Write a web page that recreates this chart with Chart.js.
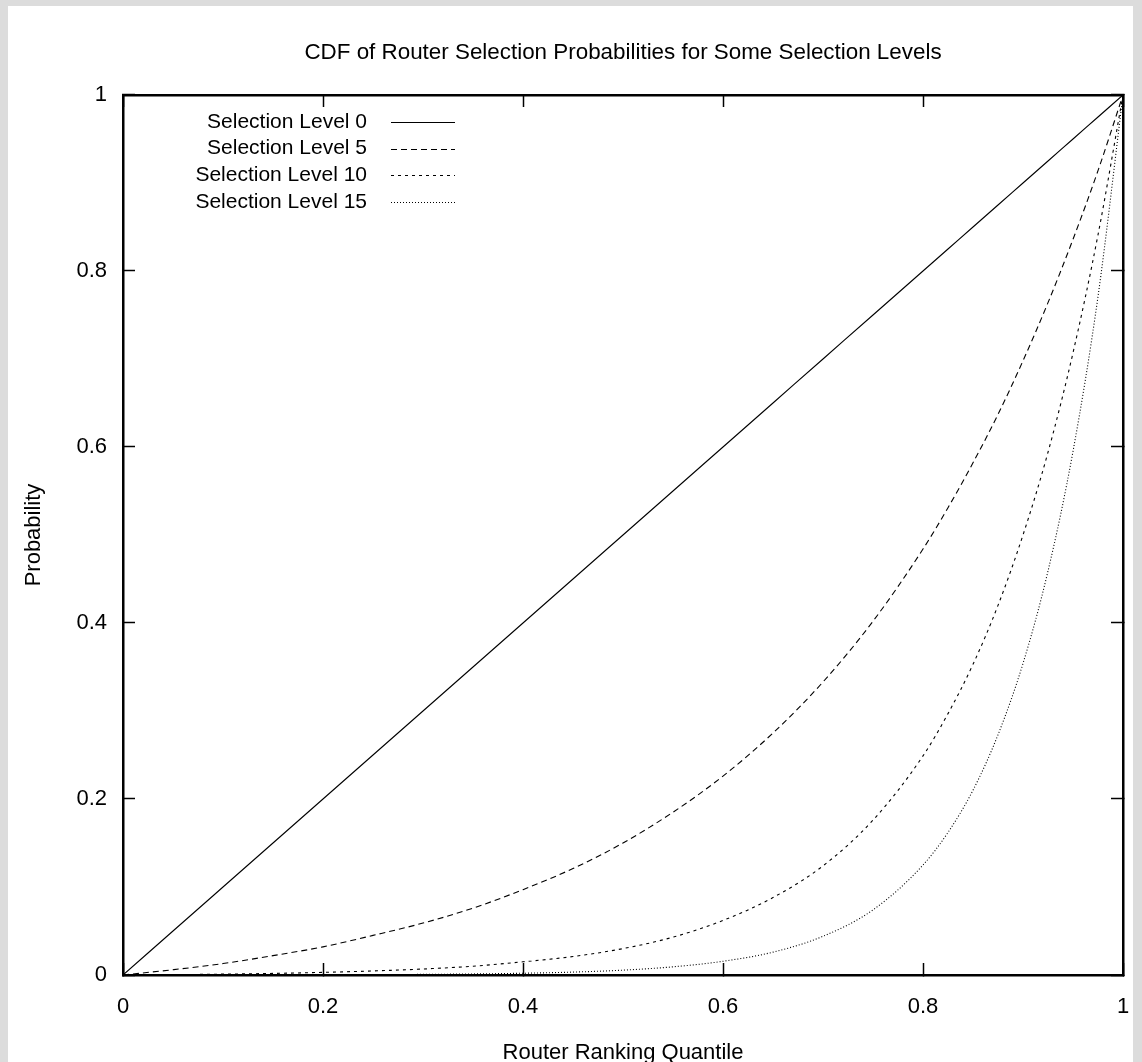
<!DOCTYPE html>
<html>
<head>
<meta charset="utf-8">
<title>Router Selection CDF</title>
<script src="https://cdn.jsdelivr.net/npm/chart.js@4.4.1/dist/chart.umd.min.js"></script>
<style>
  body { margin: 0; background: #dcdcdc; overflow: hidden; }
  #panel { position: absolute; left: 8px; top: 6px; width: 1125px; height: 1056px; background: #fff; }
</style>
</head>
<body>
<div id="panel"><canvas id="cdfChart" width="1125" height="1056"></canvas></div>
<script>
// router ranking quantile (x) and cumulative selection probability per level
const quantiles = [0, 0.05, 0.1, 0.15, 0.2, 0.25, 0.3, 0.35, 0.4, 0.45, 0.5, 0.55, 0.6, 0.65, 0.7, 0.75, 0.8, 0.825, 0.85, 0.875, 0.9, 0.925, 0.95, 0.975, 1];
const level0 = [0, 0.05, 0.1, 0.15, 0.2, 0.25, 0.3, 0.35, 0.4, 0.45, 0.5, 0.55, 0.6, 0.65, 0.7, 0.75, 0.8, 0.825, 0.85, 0.875, 0.9, 0.925, 0.95, 0.975, 1];
const level5 = [0, 0.006, 0.013, 0.022, 0.032, 0.045, 0.059, 0.076, 0.097, 0.121, 0.150, 0.185, 0.226, 0.275, 0.333, 0.402, 0.484, 0.531, 0.582, 0.637, 0.698, 0.764, 0.836, 0.914, 1];
const level10 = [0, 0.0004, 0.001, 0.0018, 0.003, 0.0046, 0.0068, 0.010, 0.015, 0.021, 0.030, 0.043, 0.062, 0.088, 0.124, 0.176, 0.249, 0.297, 0.353, 0.420, 0.500, 0.594, 0.707, 0.841, 1];
const level15 = [0, 0, 0.0001, 0.0001, 0.0002, 0.0004, 0.0007, 0.0012, 0.002, 0.0033, 0.0055, 0.0093, 0.0156, 0.026, 0.044, 0.074, 0.125, 0.162, 0.210, 0.273, 0.354, 0.459, 0.595, 0.771, 1];

const seriesNames = ['Selection Level 0', 'Selection Level 5', 'Selection Level 10', 'Selection Level 15'];
const xTickLabels = ['0', '0.2', '0.4', '0.6', '0.8', '1'];
const yTickLabels = ['0', '0.2', '0.4', '0.6', '0.8', '1'];

const FONT = '"Liberation Sans", Arial, sans-serif';
const FONT_SIZE = 22;

let toPoints = (ys) => quantiles.map((q, i) => ({ x: q, y: ys[i] }));

let lineSet = (label, ys, dash) => ({
  label: label,
  data: toPoints(ys),
  borderColor: '#000',
  borderWidth: 1.1,
  borderDash: dash,
  pointRadius: 0,
  fill: false,
  cubicInterpolationMode: 'monotone'
});

// gnuplot style key: right aligned text with a line sample after it
const keyPlugin = {
  id: 'key',
  afterDatasetsDraw(chart) {
    const ctx = chart.ctx;
    const textRight = 359, lineStart = 383, lineEnd = 447;
    const rowTop = 116, rowGap = 26.7;
    ctx.save();
    ctx.font = '21px ' + FONT;
    ctx.fillStyle = '#000';
    ctx.textAlign = 'right';
    ctx.textBaseline = 'middle';
    chart.data.datasets.forEach((ds, i) => {
      const y = rowTop + i * rowGap;
      ctx.fillText(ds.label, textRight, y);
      ctx.beginPath();
      ctx.setLineDash(ds.borderDash || []);
      ctx.strokeStyle = ds.borderColor;
      ctx.lineWidth = 1;
      ctx.moveTo(lineStart, Math.round(y) + 0.5);
      ctx.lineTo(lineEnd, Math.round(y) + 0.5);
      ctx.stroke();
    });
    ctx.restore();
  }
};

let tickFrom = (labels) => (value, index) => labels[index];

// no extra edge padding for end labels, the frame sits at fixed offsets
let noEdgePad = (scale) => {
  scale.paddingLeft = 0;
  scale.paddingRight = 0;
  scale.paddingTop = 0;
  scale.paddingBottom = 0;
};

let axisBase = (min, max) => ({
  type: 'linear',
  min: min,
  max: max,
  ticks: { stepSize: 0.2, color: '#000', font: { family: FONT, size: FONT_SIZE }, padding: 28, maxRotation: 0, autoSkip: false },
  grid: { drawOnChartArea: false, drawTicks: true, tickLength: -12, tickColor: '#000', tickWidth: 1.5 },
  border: { display: true, color: '#000', width: 2.5 }
});

const xAxis = axisBase(0, 1);
xAxis.position = 'bottom';
xAxis.ticks.callback = tickFrom(xTickLabels);
xAxis.ticks.padding = 31;
xAxis.title = { display: true, text: 'Router Ranking Quantile', color: '#000', font: { family: FONT, size: FONT_SIZE, lineHeight: 1 }, padding: { top: 0, bottom: -2 } };
xAxis.afterFit = (scale) => { scale.height = 87; noEdgePad(scale); };

const yAxis = axisBase(0, 1);
yAxis.position = 'left';
yAxis.ticks.callback = tickFrom(yTickLabels);
yAxis.title = { display: true, text: 'Probability', color: '#000', font: { family: FONT, size: FONT_SIZE, lineHeight: 1 }, padding: { top: 15, bottom: 0 } };
yAxis.afterFit = (scale) => { scale.width = 115; noEdgePad(scale); };

// mirrored tick marks on top and right
const xTop = axisBase(0, 1);
xTop.position = 'top';
xTop.ticks.display = false;
xTop.afterFit = (scale) => { scale.height = 0; noEdgePad(scale); };

const yRight = axisBase(0, 1);
yRight.position = 'right';
yRight.ticks.display = false;
yRight.afterFit = (scale) => { scale.width = 0; noEdgePad(scale); };

var ctx = document.getElementById('cdfChart').getContext('2d');
var cdfChart = new Chart(ctx, {
  type: 'line',
  data: {
    datasets: [
      lineSet(seriesNames[0], level0, []),
      lineSet(seriesNames[1], level5, [6, 4]),
      lineSet(seriesNames[2], level10, [3, 4]),
      lineSet(seriesNames[3], level15, [1, 2])
    ]
  },
  options: {
    responsive: false,
    animation: false,
    layout: { autoPadding: false, padding: { left: 0, right: 10, top: 0, bottom: 0 } },
    scales: { x: xAxis, y: yAxis, x2: xTop, y2: yRight },
    plugins: {
      legend: { display: false },
      tooltip: { enabled: false },
      title: {
        display: true,
        fullSize: false,
        text: 'CDF of Router Selection Probabilities for Some Selection Levels',
        color: '#000',
        font: { family: FONT, size: 22.4, weight: 'normal', lineHeight: 1.2 },
        padding: { top: 33.6, bottom: 28.5 }
      }
    }
  },
  plugins: [keyPlugin]
});
</script>
</body>
</html>
